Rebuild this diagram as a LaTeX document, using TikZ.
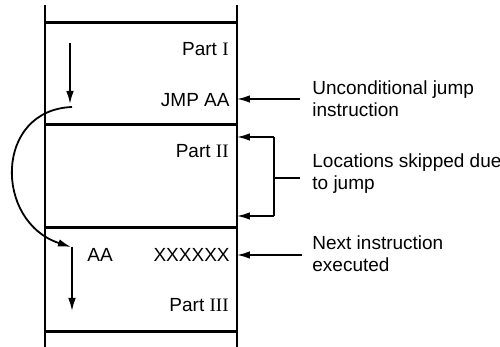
\documentclass[tikz,border=0pt]{standalone}
\usepackage{fontspec}
\setmainfont{Liberation Sans}
\newfontfamily\romI{Liberation Serif}
\usetikzlibrary{arrows.meta}
\begin{document}
\begin{tikzpicture}[x=0.5pt,y=-0.5pt,
  wall/.style={line width=1.3pt},
  sep/.style={line width=1.5pt},
  ptr/.style={line width=0.9pt,-{Latex[length=6.5pt,width=3.8pt]}},
  lbl/.style={font=\fontsize{9.5}{11}\selectfont, inner sep=0pt},
  cell/.style={lbl, anchor=east},
  note/.style={lbl, align=left, anchor=west}]
\useasboundingbox (0,0) rectangle (500,347);
% memory column
\coordinate (lt) at (45,5);   \coordinate (lb) at (45,347);
\coordinate (rt) at (237,5);  \coordinate (rb) at (237,347);
\draw[wall] (lt) -- (lb);
\draw[wall] (rt) -- (rb);
\foreach \y/\n in {23/a,125/b,228/c,332/d}{
  \coordinate (s\n l) at (45,\y); \coordinate (s\n r) at (237,\y);
  \draw[sep] (s\n l) -- (s\n r);
}
% cell texts
\node[cell] (p1) at (229,49) {Part {\romI I}};
\node[cell] (jmp) at (230,100) {JMP AA};
\node[cell] (p2) at (229,151) {Part {\romI II}};
\node[lbl, anchor=west] (aa) at (87,255) {AA};
\node[cell] (xx) at (230,255) {XXXXXX};
\node[cell] (p3) at (229,305) {Part {\romI III}};
% flow arrows
\coordinate (f1) at (70,43);
\coordinate (f2) at (70,104);
\coordinate (c1) at (72,107);
\coordinate (c2) at (71,247);
\coordinate (f3) at (72,247);
\coordinate (f4) at (72,311);
\draw[ptr] (f1) -- (f2);
\draw[ptr] (c1) .. controls (-6,110) and (-6,222) .. (c2);
\draw[ptr] (f3) -- (f4);
% notes
\node[note] (uj) at (312,99) {Unconditional jump\\instruction};
\node[note] (skip) at (312,174) {Locations skipped due\\to jump};
\node[note] (nx) at (312,254) {Next instruction\\executed};
\coordinate (tj) at (237,99);
\coordinate (tb1) at (237,137);
\coordinate (tb2) at (237,216);
\coordinate (tn) at (237,255);
\coordinate (bk1) at (274,137);
\coordinate (bk2) at (274,216);
\coordinate (bkm) at (274,178);
\coordinate (bke) at (300,178);
\draw[ptr] (300,99) -- (tj);
\draw[ptr] (bk1) -- (tb1);
\draw[ptr] (bk2) -- (tb2);
\draw[line width=0.9pt] (bk1) -- (bk2);
\draw[line width=0.9pt] (bkm) -- (bke);
\draw[ptr] (302,255) -- (tn);
\end{tikzpicture}
\end{document}
